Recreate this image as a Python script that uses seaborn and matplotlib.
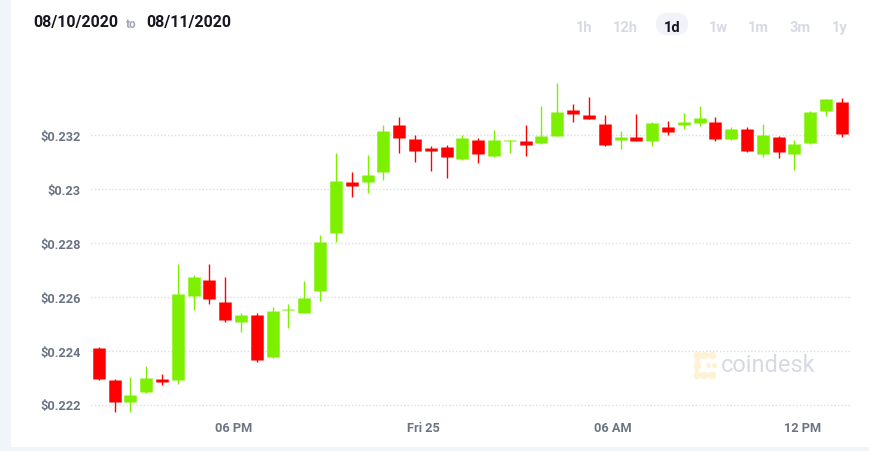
import numpy as np
import pandas as pd
import matplotlib
matplotlib.use("Agg")
import matplotlib.pyplot as plt
import seaborn as sns
from matplotlib.patches import Rectangle, FancyBboxPatch
from matplotlib.lines import Line2D
from matplotlib.transforms import IdentityTransform

# ---------------- data ----------------
times = pd.date_range("2020-09-24 13:44", periods=48, freq="30min")
opens = [0.22411, 0.22292, 0.22211, 0.22245, 0.22295, 0.22291, 0.22604, 0.22662,
         0.22582, 0.22507, 0.22532, 0.22377, 0.22549, 0.22541, 0.22622, 0.22835,
         0.23025, 0.23027, 0.23063, 0.23237, 0.23185, 0.23151, 0.23154, 0.23112,
         0.23183, 0.23121, 0.23178, 0.23179, 0.23171, 0.23197, 0.23292, 0.23274,
         0.23241, 0.23180, 0.23191, 0.23179, 0.23230, 0.23236, 0.23246, 0.23247,
         0.23184, 0.23222, 0.23128, 0.23191, 0.23128, 0.23171, 0.23289, 0.23324]
highs = [0.22415, 0.22294, 0.22301, 0.22342, 0.22312, 0.22721, 0.22680, 0.22721,
         0.22672, 0.22540, 0.22540, 0.22563, 0.22573, 0.22659, 0.22830, 0.23132,
         0.23063, 0.23126, 0.23237, 0.23266, 0.23200, 0.23158, 0.23164, 0.23200,
         0.23190, 0.23219, 0.23182, 0.23238, 0.23306, 0.23393, 0.23315, 0.23341,
         0.23274, 0.23215, 0.23277, 0.23250, 0.23251, 0.23282, 0.23308, 0.23266,
         0.23229, 0.23229, 0.23241, 0.23195, 0.23181, 0.23290, 0.23334, 0.23336]
lows = [0.22292, 0.22171, 0.22173, 0.22243, 0.22274, 0.22276, 0.22552, 0.22573,
        0.22505, 0.22470, 0.22359, 0.22374, 0.22485, 0.22538, 0.22585, 0.22802,
        0.22971, 0.22984, 0.23034, 0.23134, 0.23101, 0.23065, 0.23040, 0.23108,
        0.23096, 0.23118, 0.23133, 0.23121, 0.23168, 0.23195, 0.23249, 0.23258,
        0.23159, 0.23149, 0.23178, 0.23160, 0.23200, 0.23222, 0.23232, 0.23177,
        0.23180, 0.23136, 0.23120, 0.23114, 0.23069, 0.23168, 0.23270, 0.23193]
closes = [0.22295, 0.22209, 0.22235, 0.22298, 0.22285, 0.22610, 0.22672, 0.22592,
          0.22514, 0.22532, 0.22366, 0.22548, 0.22555, 0.22596, 0.22802, 0.23028,
          0.23011, 0.23050, 0.23214, 0.23190, 0.23142, 0.23140, 0.23118, 0.23189,
          0.23131, 0.23180, 0.23182, 0.23164, 0.23197, 0.23286, 0.23278, 0.23260,
          0.23164, 0.23193, 0.23179, 0.23245, 0.23212, 0.23247, 0.23264, 0.23185,
          0.23222, 0.23141, 0.23200, 0.23137, 0.23165, 0.23284, 0.23334, 0.23203]
y_ticks = [0.222, 0.224, 0.226, 0.228, 0.230, 0.232]
y_tick_labels = ["$0.222", "$0.224", "$0.226", "$0.228", "$0.23", "$0.232"]
x_tick_times = ["2020-09-24 18:00", "2020-09-25 00:00", "2020-09-25 06:00", "2020-09-25 12:00"]
x_tick_labels = ["06 PM", "Fri 25", "06 AM", "12 PM"]
ranges = ["1h", "12h", "1d", "1w", "1m", "3m", "1y"]

# ---------------- frame ----------------
W, H = 869, 452
sns.set_theme(style="white")
plt.rcParams['font.family'] = ['Roboto', 'DejaVu Sans']

fig = plt.figure(figsize=(W / 100, H / 100), dpi=100)
fig.patch.set_facecolor("white")
idt = IdentityTransform()
fig.patches.append(Rectangle((0, 0), 11, H, transform=idt, facecolor="#F1F4F9", edgecolor="none", zorder=0))
fig.patches.append(Rectangle((0, 0), W, 4, transform=idt, facecolor="#F1F4F9", edgecolor="none", zorder=0))

ax_l, ax_r, ax_t, ax_b = 91, 850, 70, 418
ax = fig.add_axes([ax_l / W, 1 - ax_b / H, (ax_r - ax_l) / W, (ax_b - ax_t) / H])
ax.set_facecolor("none")

base = pd.Timestamp("2020-09-24 00:00")
hours = (times - base).total_seconds() / 3600.0
df = pd.DataFrame({"x": hours, "open": opens, "high": highs, "low": lows, "close": closes})
df["cid"] = np.arange(len(df))
df["dir"] = np.where(df["close"] >= df["open"], "up", "down")
pal = {"up": "#7DF000", "down": "#FF0000"}

wicks = df.melt(id_vars=["x", "cid", "dir"], value_vars=["low", "high"], value_name="price")
bodies = df.melt(id_vars=["x", "cid", "dir"], value_vars=["open", "close"], value_name="price")

sns.lineplot(data=wicks, x="x", y="price", units="cid", estimator=None, hue="dir",
             palette=pal, lw=1.0, legend=False, ax=ax, solid_capstyle="butt", zorder=3)
sns.lineplot(data=bodies, x="x", y="price", units="cid", estimator=None, hue="dir",
             palette=pal, lw=9.0, legend=False, ax=ax, solid_capstyle="butt", zorder=4)

# scales (pixel calibrated)
ppu = 26950.0
ax.set_ylim(0.232 - (ax_b - 136) / ppu, 0.232 + (136 - ax_t) / ppu)
x0 = hours[0]
ax.set_xlim(x0 - 7.7 / 31.625, x0 - 7.7 / 31.625 + (ax_r - ax_l) / 31.625)

for s in ax.spines.values():
    s.set_visible(False)
ax.set_xlabel("")
ax.set_ylabel("")
ax.set_yticks(y_ticks)
ax.set_yticklabels(y_tick_labels)
xt = [(pd.Timestamp(t) - base).total_seconds() / 3600.0 for t in x_tick_times]
ax.set_xticks(xt)
ax.set_xticklabels(x_tick_labels)
ax.tick_params(axis="y", length=0, pad=7.5, labelsize=9.2, labelcolor="#6B7484")
ax.tick_params(axis="x", length=0, pad=3, labelsize=9.2, labelcolor="#6B7484")
for lab in ax.get_xticklabels() + ax.get_yticklabels():
    lab.set_fontweight("semibold")
ax.yaxis.grid(True, color="#D9DEEC", linestyle=(0, (1, 1.5)), linewidth=1.0)
ax.xaxis.grid(False)
ax.set_axisbelow(True)

# ---------------- header ----------------
def fy(py):
    return 1 - py / H

fig.text(33 / W, fy(23), "08/10/2020", fontsize=11.5, fontweight="bold", color="#16161F", va="center", ha="left")
fig.text(126 / W, fy(24), "to", fontsize=8.5, fontweight="bold", color="#A3A7B3", va="center", ha="left")
fig.text(146 / W, fy(23), "08/11/2020", fontsize=11.5, fontweight="bold", color="#16161F", va="center", ha="left")

fig.patches.append(FancyBboxPatch((656, H - 36), 32, 22, boxstyle="round,pad=0,rounding_size=11",
                                  transform=idt, facecolor="#F0F3FA", edgecolor="none", zorder=1))
btn_x = [584, 625, 672, 718, 758, 800, 840]
for bx, lab in zip(btn_x, ranges):
    active = lab == "1d"
    fig.text(bx / W, fy(28), lab, fontsize=10.5, fontweight="bold" if active else "semibold",
             color="#15151E" if active else "#D7DAE2", ha="center", va="center", zorder=2)

# ---------------- watermark ----------------
yc = "#FDF2D4"
def seg(xs, ys, lw=3.0):
    fig.add_artist(Line2D(xs, [H - y for y in ys], transform=idt, color=yc, lw=lw, solid_capstyle="round", zorder=2))

seg([712, 697, 697, 712], [356, 356, 376, 376])
for (cx, cy) in [(697, 356), (704, 356), (712, 356), (697, 366), (697, 376), (704, 376), (712, 376)]:
    fig.add_artist(Line2D([cx], [H - cy], transform=idt, marker="o", markersize=4.5, color=yc, lw=0, zorder=2))
for (cx, cy) in [(708, 366), (714, 366)]:
    fig.add_artist(Line2D([cx], [H - cy], transform=idt, marker="o", markersize=2.5, color=yc, lw=0, zorder=2))
fig.text(721 / W, fy(366), "coindesk", fontsize=17, color="#D6DAE1", ha="left", va="center", zorder=2)

fig.savefig("out.png", dpi=100)
